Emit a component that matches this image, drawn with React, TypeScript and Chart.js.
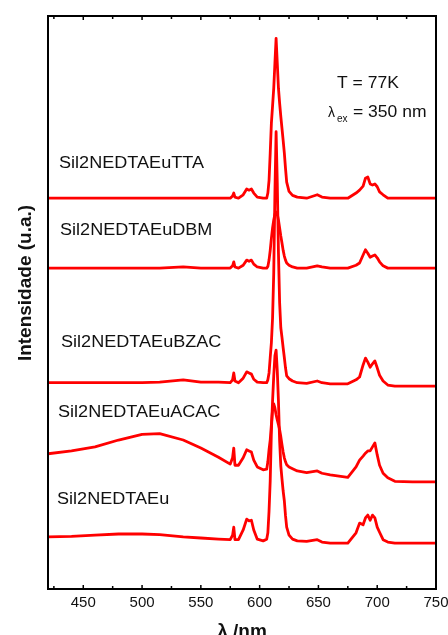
import React, { useEffect, useRef } from "react";
import { Chart, registerables } from "chart.js";

Chart.register(...registerables);

// Wavelength grid (nm) shared by all spectra
const WAVELENGTH = [
  420, 440, 460, 480, 500, 515, 535, 550, 565, 575,
  577, 578, 579, 582, 586, 589, 591, 593, 595, 598,
  603, 606, 607, 608, 609, 610, 611, 612, 613, 614,
  615, 616, 617, 618, 619, 620, 621, 622, 623, 625,
  628, 632, 640, 649, 653, 660, 675, 682, 685, 688,
  690, 692, 694, 696, 698, 700, 702, 705, 709, 715,
  730, 750,
];

// Stacked emission intensities (a.u., offset per sample)
const TTA = [
  68.2, 68.2, 68.2, 68.2, 68.2, 68.2, 68.2, 68.2, 68.2, 68.2,
  68.6, 69.1, 68.4, 68.2, 68.8, 69.8, 69.6, 69.8, 69.1, 68.4,
  68.2, 68.2, 69.1, 71.3, 76.1, 81.3, 84.3, 87.4, 91.8, 96.1,
  91.8, 87.4, 84.8, 82.5, 80.4, 78.3, 76.1, 73.4, 71.0, 69.4,
  68.7, 68.4, 68.2, 68.8, 68.4, 68.2, 68.2, 69.1, 69.6, 70.3,
  71.7, 71.9, 70.7, 70.5, 70.7, 70.2, 69.3, 68.8, 68.2, 68.2,
  68.2, 68.2,
];
const DBM = [
  56.0, 56.0, 56.0, 56.0, 56.0, 56.0, 56.2, 56.0, 56.0, 56.0,
  56.4, 57.1, 56.2, 56.0, 56.5, 57.4, 57.2, 57.4, 56.7, 56.2,
  56.0, 56.0, 56.3, 57.4, 59.1, 61.2, 63.0, 64.4, 65.4, 65.8,
  65.4, 64.4, 63.0, 61.6, 60.4, 59.1, 58.1, 57.4, 56.9, 56.5,
  56.2, 56.0, 56.0, 56.4, 56.2, 56.0, 56.0, 56.5, 56.9, 58.3,
  59.2, 58.6, 57.9, 58.1, 58.3, 57.8, 57.1, 56.4, 56.0, 56.0,
  56.0, 56.0,
];
const BZAC = [
  36.0, 36.0, 36.0, 36.0, 36.0, 36.1, 36.5, 36.1, 36.1, 36.0,
  36.5, 37.7, 36.3, 36.0, 36.8, 37.9, 37.7, 37.5, 36.6, 36.1,
  36.0, 36.0, 36.5, 37.7, 40.4, 43.0, 47.3, 55.2, 69.2, 79.8,
  70.9, 58.7, 50.0, 45.6, 43.9, 42.1, 40.4, 38.6, 37.2, 36.7,
  36.3, 36.0, 35.9, 36.3, 36.0, 35.8, 35.8, 36.5, 37.0, 39.1,
  40.3, 39.6, 38.7, 39.3, 39.8, 38.6, 37.3, 36.3, 35.6, 35.4,
  35.4, 35.4,
];
const ACAC = [
  23.6, 24.1, 24.8, 26.0, 27.0, 27.1, 26.0, 24.6, 23.0, 21.8,
  22.9, 24.6, 21.6, 21.6, 22.9, 24.3, 24.1, 23.9, 22.5, 21.3,
  20.8, 20.9, 22.2, 24.3, 26.0, 28.7, 31.3, 32.3, 31.6, 30.4,
  29.5, 28.7, 27.8, 26.6, 25.2, 23.9, 22.9, 22.2, 21.7, 21.3,
  21.0, 20.6, 20.3, 20.6, 20.2, 19.9, 19.5, 21.3, 22.5, 23.2,
  23.7, 24.1, 24.1, 24.8, 25.5, 23.4, 21.6, 20.2, 19.4, 18.8,
  18.7, 18.7,
];
const EU = [
  9.1, 9.2, 9.4, 9.6, 9.6, 9.5, 9.1, 8.9, 8.7, 8.6,
  9.4, 10.8, 8.6, 8.6, 10.3, 12.2, 11.9, 12.0, 10.3, 8.7,
  8.4, 8.7, 9.8, 13.6, 18.9, 27.6, 32.8, 37.2, 40.7, 41.7,
  38.1, 32.8, 25.9, 21.5, 19.2, 17.1, 15.4, 12.8, 10.8, 9.4,
  8.7, 8.4, 8.3, 8.6, 8.2, 8.0, 8.0, 9.8, 11.5, 11.2,
  12.4, 12.9, 12.0, 12.9, 12.4, 10.8, 9.9, 8.6, 8.2, 8.0,
  8.0, 8.0,
];

const SERIES = [TTA, DBM, BZAC, ACAC, EU];
const SAMPLE_LABELS = [
  "Sil2NEDTAEuTTA",
  "Sil2NEDTAEuDBM",
  "Sil2NEDTAEuBZAC",
  "Sil2NEDTAEuACAC",
  "Sil2NEDTAEu",
];

const X_TICKS = [450, 500, 550, 600, 650, 700, 750];
const X_MINOR_TICKS = [425, 475, 525, 575, 625, 675, 725];

const FONT = '"Liberation Sans", Arial, Helvetica, sans-serif';

function stretchText(ctx: CanvasRenderingContext2D, text: string, x: number, y: number, sx: number) {
  ctx.save();
  ctx.translate(x, y);
  ctx.scale(sx, 1);
  ctx.fillText(text, 0, 0);
  ctx.restore();
}

const decorPlugin = {
  id: "decor",
  afterDraw(chart: any) {
    const { ctx, chartArea: a, scales } = chart;
    const x = scales.x;
    ctx.save();
    // frame
    ctx.strokeStyle = "#000";
    ctx.lineWidth = 2;
    ctx.strokeRect(a.left, a.top, a.right - a.left, a.bottom - a.top);
    // inward ticks top & bottom
    ctx.lineWidth = 1.5;
    const drawTick = (v: number, len: number) => {
      const px = x.getPixelForValue(v);
      ctx.beginPath();
      ctx.moveTo(px, a.bottom);
      ctx.lineTo(px, a.bottom - len);
      ctx.moveTo(px, a.top);
      ctx.lineTo(px, a.top + len);
      ctx.stroke();
    };
    X_TICKS.forEach((v) => drawTick(v, 4));
    X_MINOR_TICKS.forEach((v) => drawTick(v, 3));

    // sample labels
    ctx.fillStyle = "#111";
    ctx.textBaseline = "alphabetic";
    ctx.textAlign = "left";
    ctx.font = `16px ${FONT}`;
    const labelPos = [
      [59, 168],
      [60, 235],
      [61, 347],
      [58, 417],
      [57, 504],
    ];
    SAMPLE_LABELS.forEach((t, i) => stretchText(ctx, t, labelPos[i][0], labelPos[i][1], 1.13));

    // conditions
    ctx.font = `17px ${FONT}`;
    stretchText(ctx, "T = 77K", 337, 88, 1.03);
    ctx.font = `14px ${FONT}`;
    ctx.fillText("λ", 328, 117);
    ctx.font = `10px ${FONT}`;
    ctx.fillText("ex", 337, 122);
    ctx.font = `17px ${FONT}`;
    stretchText(ctx, "= 350 nm", 353, 117, 1.03);

    // axis titles
    ctx.font = `bold 19px ${FONT}`;
    ctx.textAlign = "center";
    ctx.fillText("λ /nm", 242, 637);
    ctx.save();
    ctx.translate(31, 283);
    ctx.rotate(-Math.PI / 2);
    ctx.textBaseline = "alphabetic";
    ctx.fillText("Intensidade (u.a.)", 0, 0);
    ctx.restore();
    ctx.restore();
  },
};

export default function App() {
  const ref = useRef<HTMLCanvasElement>(null);
  useEffect(() => {
    const chart = new Chart(ref.current!, {
      type: "line",
      data: {
        datasets: SERIES.map((s, i) => ({
          label: SAMPLE_LABELS[i],
          data: WAVELENGTH.map((w, j) => ({ x: w, y: s[j] })),
          borderColor: "#ff0000",
          borderWidth: 2.8,
          pointRadius: 0,
          tension: 0,
          borderJoinStyle: "round" as const,
          borderCapStyle: "round" as const,
        })),
      },
      options: {
        responsive: false,
        maintainAspectRatio: false,
        animation: false,
        layout: { padding: { left: 48, right: 12, top: 16, bottom: 0 } },
        plugins: {
          legend: { display: false },
          tooltip: { enabled: false },
          title: { display: false },
        },
        scales: {
          x: {
            type: "linear",
            min: 420,
            max: 750,
            grid: { display: false, drawTicks: false },
            border: { display: false },
            ticks: {
              color: "#111",
              font: { family: FONT, size: 15 },
              padding: 5,
              maxRotation: 0,
              autoSkip: false,
            },
            afterBuildTicks: (s: any) => {
              s.ticks = X_TICKS.map((v) => ({ value: v }));
            },
            afterFit: (s: any) => {
              s.height = 46;
              s.paddingLeft = 0;
              s.paddingRight = 0;
            },
          },
          y: { display: false, min: 0, max: 100 },
        },
      },
      plugins: [decorPlugin],
    });
    return () => chart.destroy();
  }, []);
  return (
    <div style={{ position: "fixed", left: 0, top: 0, width: 448, height: 635, background: "#fff" }}>
      <canvas ref={ref} width={448} height={635} style={{ width: 448, height: 635, display: "block" }} />
    </div>
  );
}
